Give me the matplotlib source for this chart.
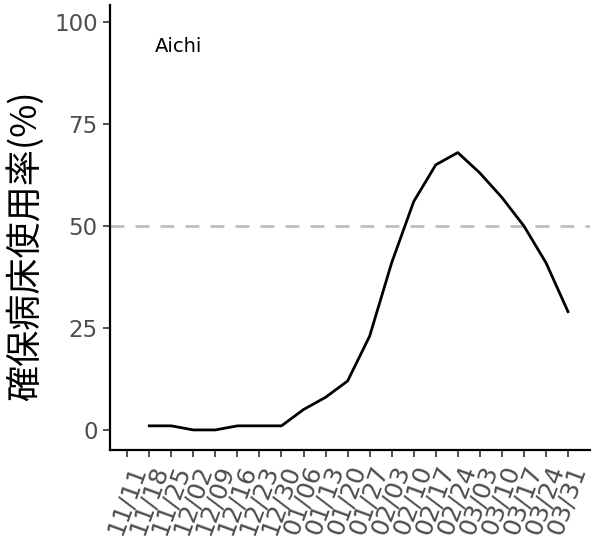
import numpy as np
import matplotlib
matplotlib.use('Agg')
import matplotlib.pyplot as plt

plt.rcParams['font.family'] = ['DejaVu Sans', 'Noto Sans CJK JP']

# weekly dates shown on the x axis
tick_labels = ['11/11', '11/18', '11/25', '12/02', '12/09', '12/16', '12/23',
               '12/30', '01/06', '01/13', '01/20', '01/27', '02/03', '02/10',
               '02/17', '02/24', '03/03', '03/10', '03/17', '03/24', '03/31']

# bed occupancy (%) for Aichi, one value per week from 11/18
dates = tick_labels[1:]
occupancy = [1, 1, 0, 0, 1, 1, 1, 5, 8, 12, 23, 41, 56, 65, 68, 63, 57, 50, 41, 29]

threshold = 50
pref = 'Aichi'

fig = plt.figure(figsize=(5.96, 5.48), dpi=100)
ax = fig.add_axes([0.185, 0.179, 0.805, 0.812])

x_pos = [tick_labels.index(d) for d in dates]
ax.axhline(threshold, color='#BEBEBE', lw=2, ls=(0, (5, 4)), zorder=1)
ax.plot(x_pos, occupancy, color='black', lw=2, zorder=2)

ax.text(1.25, 94, pref, fontsize=14, ha='left', va='center')

ax.set_xticks(range(len(tick_labels)))
ax.set_xticklabels(tick_labels, rotation=70, ha='right', va='top',
                   rotation_mode='anchor', fontsize=18, color='#4D4D4D')
ax.set_yticks([0, 25, 50, 75, 100])
ax.tick_params(axis='y', labelsize=16.5, labelcolor='#4D4D4D', pad=4)
ax.tick_params(axis='both', color='#333333', length=5, width=1.2)

ax.set_xlim(-0.77, 21.0)
ax.set_ylim(-4.9, 104.2)

ax.set_ylabel('確保病床使用率(%)', fontsize=26,
              family=['Noto Sans CJK JP', 'DejaVu Sans'])
ax.yaxis.set_label_coords(-0.137, 0.46)

for s in ['top', 'right']:
    ax.spines[s].set_visible(False)
for s in ['left', 'bottom']:
    ax.spines[s].set_linewidth(1.6)
    ax.spines[s].set_color('black')

fig.savefig('out.png', dpi=100)
